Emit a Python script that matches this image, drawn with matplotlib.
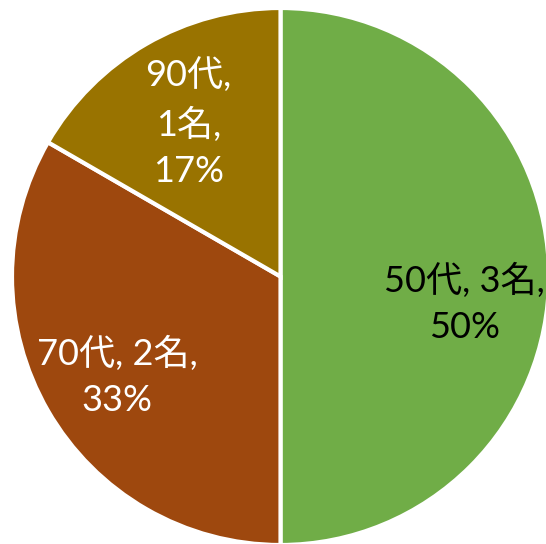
import matplotlib.pyplot as plt

# --- dados ---
ages = ["50代", "70代", "90代"]
counts = [3, 2, 1]
percents = ["50%", "33%", "17%"]
colors = ["#70AD47", "#9E480E", "#997300"]
label_colors = ["black", "white", "white"]

labels = [
    "50代, 3名,\n50%",
    "70代, 2名,\n33%",
    "90代,\n1名,\n17%",
]

plt.rcParams['font.family'] = ['Lato', 'Noto Sans CJK JP', 'DejaVu Sans']

fig = plt.figure(figsize=(5.46, 5.44), dpi=100)
ax = fig.add_axes([0, 0, 1, 1])

R_PX = 268.5        # raio em pixels
CX, CY = 280.5, 276.5  # centro em pixels

wedges, texts = ax.pie(
    counts,
    labels=labels,
    colors=colors,
    startangle=90,
    counterclock=False,
    radius=1.0,
    labeldistance=0.685,
    wedgeprops=dict(edgecolor="white", linewidth=3),
    textprops=dict(fontsize=26, ha="center", va="center",
                   multialignment="center", linespacing=1.5),
)

for t, c in zip(texts, label_colors):
    t.set_color(c)

# ajuste fino dos rótulos (posição "melhor ajuste" do Excel)
nudges = [(0.0, -0.1), (-0.015, -0.03), (0.0, -0.02)]
for t, (dx, dy) in zip(texts, nudges):
    x0, y0 = t.get_position()
    t.set_position((x0 + dx, y0 + dy))

ax.set_aspect("auto")
ax.set_xlim(-CX / R_PX, (546 - CX) / R_PX)
ax.set_ylim(-(544 - CY) / R_PX, CY / R_PX)
ax.axis("off")

fig.savefig("out.png", dpi=100)
